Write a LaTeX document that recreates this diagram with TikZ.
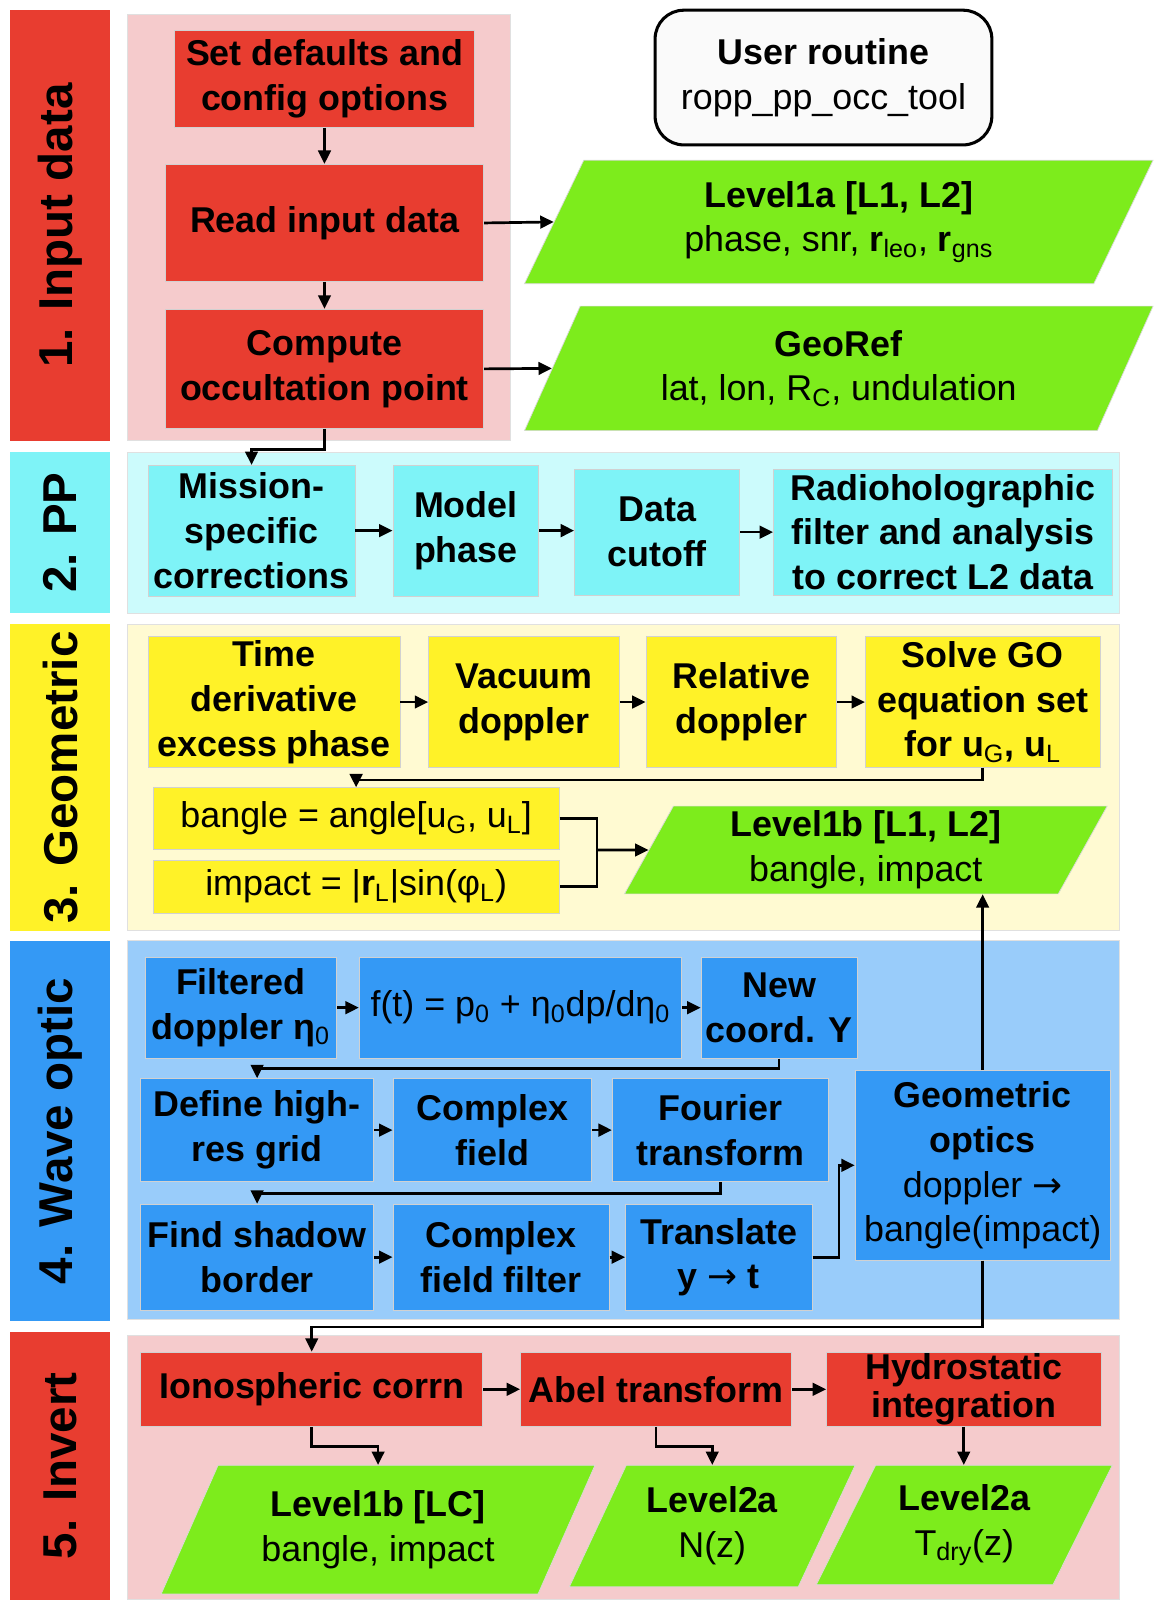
\documentclass[tikz,border=0pt]{standalone}
\usepackage{fontspec}
\setmainfont{Liberation Sans}
\newfontfamily\arrowfont{DejaVu Sans}
\usetikzlibrary{arrows.meta,shapes.geometric}

\definecolor{redbx}{RGB}{232,61,48}
\definecolor{pinkbg}{RGB}{245,203,204}
\definecolor{cyanbx}{RGB}{126,243,247}
\definecolor{cyanbg}{RGB}{204,251,252}
\definecolor{yellowbx}{RGB}{255,242,40}
\definecolor{yellowbg}{RGB}{255,250,210}
\definecolor{bluebx}{RGB}{52,153,245}
\definecolor{bluebg}{RGB}{153,204,250}
\definecolor{greenbx}{RGB}{125,236,28}
\definecolor{userbg}{RGB}{250,250,250}

\newcommand{\rarr}{{\arrowfont\mdseries →}}
\newcommand{\lowtxt}[1]{\textsubscript{\mdseries #1}}

\begin{document}
\begin{tikzpicture}[
  x=0.02cm, y=-0.02cm,
  every node/.style={align=center, inner sep=0pt, font=\fontsize{20}{25}\selectfont},
  sz/.style 2 args={minimum width=#1*0.02cm, minimum height=#2*0.02cm},
  box/.style   ={rectangle, draw=black!18, line width=0.4pt,
                 font=\fontsize{20}{25}\selectfont\bfseries},
  redbox/.style   ={box, fill=redbx},
  cyanbox/.style  ={box, fill=cyanbx},
  yellowbox/.style={box, fill=yellowbx},
  bluebox/.style  ={box, fill=bluebx},
  data/.style  ={trapezium, trapezium left angle=54, trapezium right angle=126,
                 trapezium stretches body, fill=greenbx, draw=black!15, line width=0.4pt},
  strip/.style ={rectangle, rotate=90, font=\fontsize{26.5}{30}\selectfont\bfseries},
  bg/.style    ={draw=black!12, line width=0.6pt},
  arrow/.style ={-{Triangle[length=7.5pt,width=7pt]}, line width=1.5pt},
  line/.style  ={line width=1.5pt},
]
\useasboundingbox (0,0) rectangle (1130,1568);

% Section strips
\node[strip, fill=redbx,    sz={422}{98}] (s1) at (59,221)    {1. Input data};
\node[strip, fill=cyanbx,   sz={158}{98}] (s2) at (59,522)    {2. PP};
\node[strip, fill=yellowbx, sz={300}{98}] (s3) at (59,762)    {3. Geometric};
\node[strip, fill=bluebx,   sz={373}{98}] (s4) at (59,1108.5) {4. Wave optic};
\node[strip, fill=redbx,    sz={263}{98}] (s5) at (59,1436.5) {5. Invert};

% Backgrounds
\draw[bg, fill=pinkbg]   (125,14)   rectangle (500,432);
\draw[bg, fill=cyanbg]   (125,443)  rectangle (1097,601);
\draw[bg, fill=yellowbg] (125,612)  rectangle (1097,912);
\draw[bg, fill=bluebg]   (125,922)  rectangle (1097,1293);
\draw[bg, fill=pinkbg]   (125,1309) rectangle (1097,1568);

% 1. Input data
\node[redbox, sz={294}{95}]  (setdef)  at (318,77.5)  {Set defaults and\\config options};
\node[redbox, sz={312}{115}] (readin)  at (318,218.5) {Read input data};
\node[redbox, sz={312}{117}] (compocc) at (318,361.5) {Compute\\occultation point};
\node[rectangle, rounded corners=16pt, draw=black, line width=1.7pt, fill=userbg,
      sz={330}{132}] (userr) at (807,76) {\textbf{User routine}\\ropp\_pp\_occ\_tool};
\node[data, sz={616}{121}] (lev1a)  at (822,217.5)
  {\textbf{Level1a [L1, L2]}\\phase, snr, \textbf{r}\textsubscript{leo}, \textbf{r}\textsubscript{gns}};
\node[data, sz={616}{122}] (georef) at (822,361)
  {\textbf{GeoRef}\\lat, lon, R\textsubscript{C}, undulation};

\draw[arrow] (setdef) -- (readin);
\draw[arrow] (readin) -- (compocc);
\draw[arrow] (readin.east) -- (lev1a.west);
\draw[arrow] (compocc.east) -- (georef.west);

% 2. PP
\node[cyanbox, sz={203}{128}] (mission) at (246.5,520) {Mission-\\specific\\corrections};
\node[cyanbox, sz={143}{128}] (model)   at (456.5,520) {Model\\phase};
\node[cyanbox, sz={162}{123}] (cutoff)  at (644,521.5) {Data\\cutoff};
\node[cyanbox, sz={332}{123}] (radio)   at (924,521.5) {Radioholographic\\filter and analysis\\to correct L2 data};

\draw[arrow] (compocc.south) -- ++(0,20) -| (mission.north);
\draw[arrow] (mission.east) -- (model.west);
\draw[arrow] (model.east) -- (model.east -| cutoff.west);
\draw[arrow] (cutoff.east) -- (radio.west);

% 3. Geometric
\node[yellowbox, sz={247}{128}] (timed)   at (268.5,688) {Time\\derivative\\excess phase};
\node[yellowbox, sz={187}{128}] (vacd)    at (513.5,688) {Vacuum\\doppler};
\node[yellowbox, sz={187}{128}] (reld)    at (726.5,688) {Relative\\doppler};
\node[yellowbox, sz={230}{128}] (solvego) at (963,688)
  {Solve GO\\equation set\\for u\lowtxt{G}, u\lowtxt{L}};
\node[yellowbox, sz={398}{60}, font=\fontsize{20}{25}\selectfont] (bangle) at (349,802)
  {bangle = angle[u\textsubscript{G}, u\textsubscript{L}]};
\node[yellowbox, sz={398}{52}, font=\fontsize{20}{25}\selectfont] (impact) at (349,869)
  {impact = |\textbf{r}\textsubscript{L}|sin(φ\textsubscript{L})};
\node[data, trapezium left angle=58, trapezium right angle=122, sz={473}{86}] (lev1b) at (848.5,833)
  {\textbf{Level1b [L1, L2]}\\bangle, impact};
\coordinate (joinba) at (585,833);

\draw[arrow] (timed.east) -- (vacd.west);
\draw[arrow] (vacd.east) -- (reld.west);
\draw[arrow] (reld.east) -- (solvego.west);
\draw[arrow] (solvego.south) -- ++(0,12) -| (bangle.north);
\draw[line] (bangle.east) -| (joinba) |- (impact.east);
\draw[arrow] (joinba) -- (lev1b.west);

% 4. Wave optic
\node[bluebox, sz={188}{99}] (filtd) at (236,987.5) {Filtered\\doppler η\lowtxt{0}};
\node[bluebox, sz={316}{99}, font=\fontsize{20}{25}\selectfont] (fteq) at (510,987.5)
  {f(t) = p\textsubscript{0} + η\textsubscript{0}dp/dη\textsubscript{0}};
\node[bluebox, sz={153}{99}] (newc) at (763.5,987.5) {New\\coord. Y};
\node[bluebox, sz={228}{101}] (defg)    at (252,1107.5) {Define high-\\res grid};
\node[bluebox, sz={195}{101}] (cfield)  at (482.5,1107.5) {Complex\\field};
\node[bluebox, sz={212}{101}] (fourier) at (706,1107.5) {Fourier\\transform};
\node[bluebox, sz={228}{104}] (shadow)  at (252,1232) {Find shadow\\border};
\node[bluebox, sz={212}{104}] (cffilt)  at (491,1232) {Complex\\field filter};
\node[bluebox, sz={183}{104}] (transl)  at (704.5,1232) {Translate\\y \rarr{} t};
\node[bluebox, sz={250}{186}] (geoopt)  at (963,1142)
  {Geometric\\optics\\\mdseries doppler \rarr\\\mdseries bangle(impact)};

\draw[arrow] (filtd.east) -- (fteq.west);
\draw[arrow] (fteq.east) -- (newc.west);
\draw[arrow] (newc.south) -- ++(0,10) -| (defg.north);
\draw[arrow] (defg.east) -- (cfield.west);
\draw[arrow] (cfield.east) -- (fourier.west);
\draw[arrow] (fourier.south) -- ++(0,11) -| (shadow.north);
\draw[arrow] (shadow.east) -- (cffilt.west);
\draw[arrow] (cffilt.east) -- (transl.west);
\draw[arrow] (transl.east) -- ++(26,0) |- (geoopt.west);
\draw[arrow] (geoopt.north) -- (geoopt.north |- lev1b.south);

% 5. Invert
\node[redbox, sz={335}{73}] (iono)  at (305.5,1361.5) {Ionospheric corrn};
\node[redbox, sz={266}{73}] (abel)  at (643,1361.5)   {Abel transform};
\node[redbox, sz={269}{73}, font=\fontsize{20}{21.5}\selectfont\bfseries] (hydro) at (944.5,1361.5)
  {Hydrostatic\\integration};
\node[data, sz={425}{126}] (lv1lc) at (370.5,1499) {\textbf{Level1b [LC]}\\bangle, impact};
\node[data, sz={280}{119}] (lv2n)  at (698,1495.5) {\textbf{Level2a}\\N(z)};
\node[data, sz={290}{117}] (lv2t)  at (945,1494.5) {\textbf{Level2a}\\T\textsubscript{dry}(z)};

\draw[arrow] (geoopt.south) -- ++(0,65) -| (iono.north);
\draw[arrow] (iono.east) -- (abel.west);
\draw[arrow] (abel.east) -- (hydro.west);
\draw[arrow] (iono.south) -- ++(0,19) -| (lv1lc.north);
\draw[arrow] (abel.south) -- ++(0,19) -| (lv2n.north);
\draw[arrow] (hydro.south) -- (hydro.south |- lv2t.north);

\end{tikzpicture}
\end{document}
